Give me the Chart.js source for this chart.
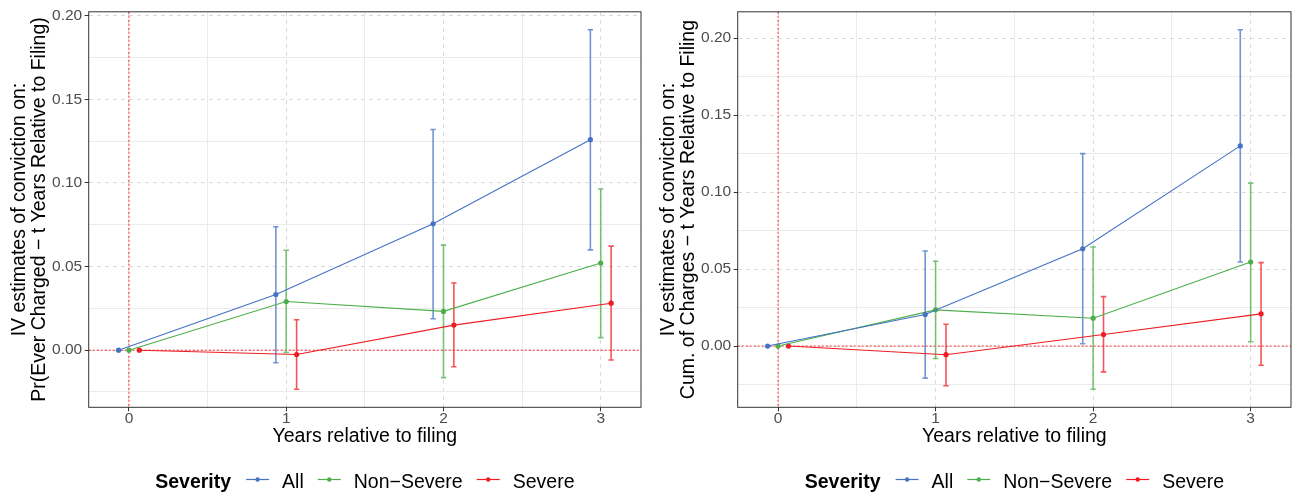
<!DOCTYPE html>
<html>
<head>
<meta charset="utf-8">
<script src="https://cdn.jsdelivr.net/npm/chart.js@4.4.1/dist/chart.umd.min.js"></script>
<style>
  html, body { margin: 0; padding: 0; background: #fff; }
  .row { display: flex; width: 1298px; height: 500px; }
  .cell { width: 649px; height: 500px; }
</style>
</head>
<body>
<div class="row">
  <div class="cell"><canvas id="ever" width="649" height="500"></canvas></div>
  <div class="cell"><canvas id="cum" width="649" height="500"></canvas></div>
</div>
<script>
const years = [0, 1, 2, 3];
const severity = ['All', 'Non\u2212Severe', 'Severe'];
const xTicks = [0, 1, 2, 3];
const yTicks = [0, 0.05, 0.10, 0.15, 0.20];

// Pr(Ever Charged - t years relative to filing)
const everAll      = [0, 0.0333, 0.0756, 0.1259];
const everAllLo    = [null, -0.0075, 0.0188, 0.0600];
const everAllHi    = [null, 0.0738, 0.1320, 0.1916];
const everNonSev   = [0, 0.0291, 0.0232, 0.0521];
const everNonSevLo = [null, -0.0014, -0.0164, 0.0075];
const everNonSevHi = [null, 0.0598, 0.0628, 0.0964];
const everSev      = [0, -0.0026, 0.0150, 0.0281];
const everSevLo    = [null, -0.0234, -0.0099, -0.0059];
const everSevHi    = [null, 0.0182, 0.0402, 0.0622];

// Cum. of charges - t years relative to filing
const cumAll      = [0, 0.0205, 0.0632, 0.1300];
const cumAllLo    = [null, -0.0208, 0.0015, 0.0546];
const cumAllHi    = [null, 0.0617, 0.1250, 0.2054];
const cumNonSev   = [0, 0.0235, 0.0181, 0.0546];
const cumNonSevLo = [null, -0.0081, -0.0281, 0.0028];
const cumNonSevHi = [null, 0.0551, 0.0643, 0.1058];
const cumSev      = [0, -0.0056, 0.0075, 0.0209];
const cumSevLo    = [null, -0.0258, -0.0168, -0.0125];
const cumSevHi    = [null, 0.0142, 0.0321, 0.0542];

const colors = ['#4472C4', '#4DAF4A', '#EE1D23'];
const barColors = ['rgba(68,114,196,0.75)', 'rgba(77,175,74,0.75)', 'rgba(238,29,35,0.75)'];
const DODGE = [-0.066, 0, 0.066];
const X_MIN = -0.256, X_MAX = 3.256;
const FONT = '"Liberation Sans", Arial, sans-serif';

Chart.defaults.font.family = FONT;

const isMajor = v => yTicks.some(t => Math.abs(t - v) < 1e-6);

function panelPlugin(los, his) {
  return {
    id: 'panel',
    beforeDatasetsDraw(chart) {
      const { ctx, chartArea: a, scales: { x, y } } = chart;
      ctx.save();
      // zero reference lines
      ctx.strokeStyle = 'rgba(255,0,0,0.85)';
      ctx.lineWidth = 1;
      ctx.setLineDash([2, 2]);
      const x0 = x.getPixelForValue(0), y0 = y.getPixelForValue(0);
      ctx.beginPath();
      ctx.moveTo(x0, a.top); ctx.lineTo(x0, a.bottom);
      ctx.moveTo(a.left, y0); ctx.lineTo(a.right, y0);
      ctx.stroke();
      ctx.setLineDash([]);
      // error bars
      ctx.lineWidth = 1.6;
      los.forEach((lo, s) => {
        ctx.strokeStyle = barColors[s];
        years.forEach((yr, i) => {
          if (lo[i] == null) return;
          const px = x.getPixelForValue(yr + DODGE[s]);
          const p1 = y.getPixelForValue(lo[i]);
          const p2 = y.getPixelForValue(his[s][i]);
          ctx.beginPath();
          ctx.moveTo(px, p1); ctx.lineTo(px, p2);
          ctx.moveTo(px - 2.7, p1); ctx.lineTo(px + 2.7, p1);
          ctx.moveTo(px - 2.7, p2); ctx.lineTo(px + 2.7, p2);
          ctx.stroke();
        });
      });
      ctx.restore();
    },
    afterDraw(chart) {
      const { ctx, chartArea: a } = chart;
      ctx.save();
      // panel border
      ctx.strokeStyle = '#333333';
      ctx.lineWidth = 1;
      ctx.strokeRect(a.left, a.top, a.right - a.left, a.bottom - a.top);

      // legend
      ctx.font = 'bold 19.5px ' + FONT;
      const titleW = ctx.measureText('Severity').width;
      ctx.font = '19.5px ' + FONT;
      const widths = severity.map(s => ctx.measureText(s).width);
      const total = titleW + 15 + widths.reduce((t, w) => t + 23 + 13 + w, 0) + 14 * (severity.length - 1);
      let cx = (a.left + a.right) / 2 - total / 2;
      const base = 488;
      const mid = 479.5;
      ctx.fillStyle = '#000';
      ctx.textBaseline = 'alphabetic';
      ctx.textAlign = 'left';
      ctx.font = 'bold 19.5px ' + FONT;
      ctx.fillText('Severity', cx, base);
      cx += titleW + 15;
      ctx.font = '19.5px ' + FONT;
      severity.forEach((s, i) => {
        ctx.strokeStyle = colors[i];
        ctx.lineWidth = 1.2;
        ctx.beginPath();
        ctx.moveTo(cx, mid); ctx.lineTo(cx + 23, mid);
        ctx.stroke();
        ctx.fillStyle = colors[i];
        ctx.beginPath();
        ctx.arc(cx + 11.5, mid, 2.2, 0, Math.PI * 2);
        ctx.fill();
        cx += 23 + 13;
        ctx.fillStyle = '#000';
        ctx.fillText(s, cx, base);
        cx += widths[i] + 14;
      });
      ctx.restore();
    }
  };
}

function makeChart(id, ylabel, ests, los, his, padRight) {
  const all = [].concat(...ests, ...los, ...his).filter(v => v != null);
  const lo = Math.min(...all), hi = Math.max(...all);
  const pad = (hi - lo) * 0.05;
  const yMin = lo - pad, yMax = hi + pad;
  // major ticks plus the minor lines half way between them
  const yGrid = [];
  const step = yTicks[1] - yTicks[0];
  for (let v = yTicks[0] - step / 2; v <= yMax + 1e-9; v += step / 2) {
    if (v >= yMin) yGrid.push(Math.round(v * 1000) / 1000);
  }
  const xGrid = [];
  xTicks.forEach((t, i) => { xGrid.push(t); if (i < xTicks.length - 1) xGrid.push((t + xTicks[i + 1]) / 2); });

  const datasets = ests.map((est, s) => ({
    label: severity[s],
    data: years.map((yr, i) => ({ x: yr + DODGE[s], y: est[i] })),
    showLine: true,
    borderColor: colors[s],
    backgroundColor: colors[s],
    borderWidth: 1.1,
    pointRadius: 2.6,
    pointBorderWidth: 0,
    pointHoverRadius: 2.6
  }));

  return new Chart(document.getElementById(id), {
    type: 'scatter',
    data: { datasets },
    plugins: [panelPlugin(los, his)],
    options: {
      responsive: false,
      animation: false,
      events: [],
      layout: { padding: { top: 9.3, right: padRight, bottom: 50, left: 0 } },
      plugins: { legend: { display: false }, tooltip: { enabled: false } },
      scales: {
        x: {
          type: 'linear',
          min: X_MIN,
          max: X_MAX,
          afterBuildTicks: sc => { sc.ticks = xGrid.map(v => ({ value: v })); },
          afterFit: sc => { sc.height = 500 - 50 - 407.3; },
          ticks: {
            autoSkip: false, maxRotation: 0, padding: -1.5,
            color: '#4D4D4D', font: { size: 15.5 },
            callback: v => (xTicks.includes(v) ? String(v) : '')
          },
          grid: {
            color: c => (c.tick && xTicks.includes(c.tick.value) ? '#d9d9d9' : '#ebebeb'),
            lineWidth: 1,
            tickLength: 4,
            tickWidth: 1,
            tickColor: c => (c.tick && xTicks.includes(c.tick.value) ? '#333333' : 'rgba(0,0,0,0)')
          },
          border: { display: false, dash: c => (c.tick && xTicks.includes(c.tick.value) ? [4, 4] : []) },
          title: {
            display: true, text: 'Years relative to filing', color: '#000',
            font: { size: 19.5 }, padding: { top: 0, bottom: 2 }
          }
        },
        y: {
          type: 'linear',
          min: yMin,
          max: yMax,
          afterBuildTicks: sc => { sc.ticks = yGrid.map(v => ({ value: v })); },
          afterFit: sc => { sc.width = 88.7; },
          ticks: {
            autoSkip: false, padding: 2.5,
            color: '#4D4D4D', font: { size: 15.5 },
            callback: v => (isMajor(v) ? v.toFixed(2) : '')
          },
          grid: {
            color: c => (c.tick && isMajor(c.tick.value) ? '#d9d9d9' : '#ebebeb'),
            lineWidth: 1,
            tickLength: 4,
            tickWidth: 1,
            tickColor: c => (c.tick && isMajor(c.tick.value) ? '#333333' : 'rgba(0,0,0,0)')
          },
          border: { display: false, dash: c => (c.tick && isMajor(c.tick.value) ? [4, 4] : []) },
          title: {
            display: true, text: ['IV estimates of conviction on:', ylabel], color: '#000',
            font: { size: 19.5, lineHeight: 1.0 }, padding: { top: 10, bottom: 0 }
          }
        }
      }
    }
  });
}

makeChart('ever', 'Pr(Ever Charged \u2212 t Years Relative to Filing)',
  [everAll, everNonSev, everSev],
  [everAllLo, everNonSevLo, everSevLo],
  [everAllHi, everNonSevHi, everSevHi], 8);

makeChart('cum', 'Cum. of Charges \u2212 t Years Relative to Filing',
  [cumAll, cumNonSev, cumSev],
  [cumAllLo, cumNonSevLo, cumSevLo],
  [cumAllHi, cumNonSevHi, cumSevHi], 7);
</script>
</body>
</html>
